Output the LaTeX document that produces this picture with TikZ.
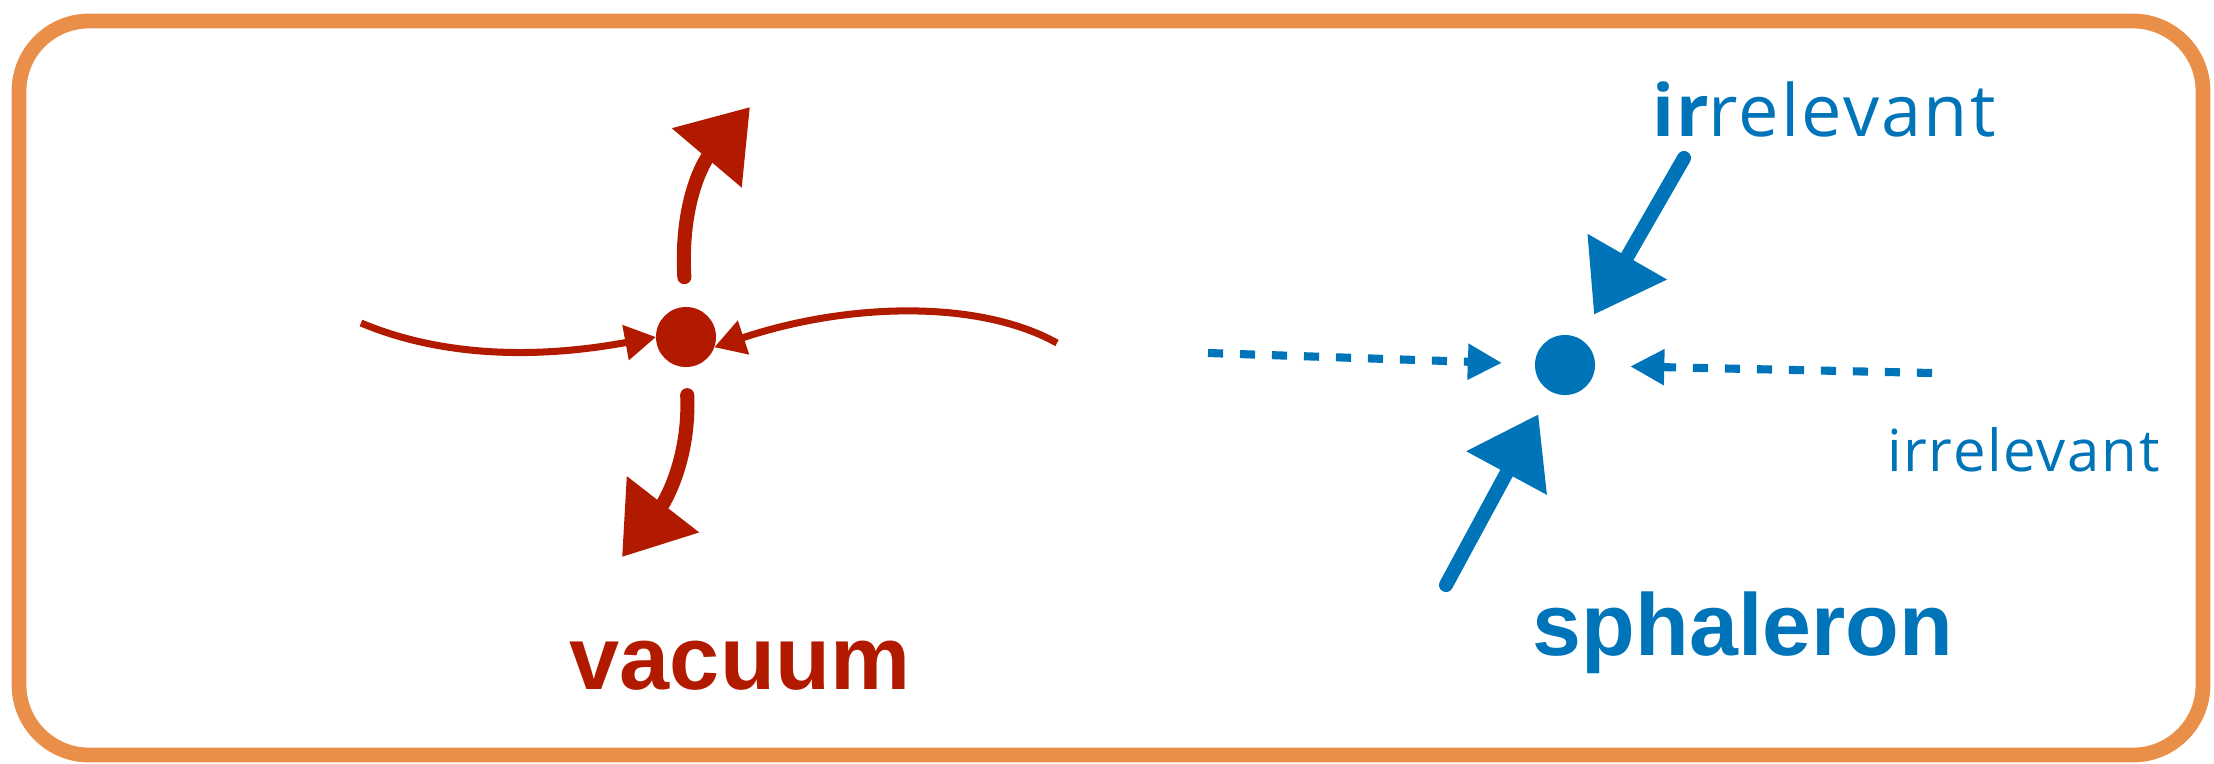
\documentclass[tikz,border=0pt]{standalone}
\usepackage{fontspec}
\setmainfont{Liberation Sans}
\newfontfamily\thinsans[LetterSpace=3]{Open Sans}
\usetikzlibrary{arrows.meta}
\definecolor{vred}{HTML}{B21A00}
\definecolor{sblue}{HTML}{0074B9}
\definecolor{frameorange}{HTML}{EA8F4A}
\begin{document}
\begin{tikzpicture}[x=0.01cm,y=-0.01cm,
  dotnode/.style={circle, minimum size=0.6cm, inner sep=0pt, outer sep=0pt},
  smootharrow/.style={line width=2pt, -{Triangle[length=8.8pt,width=9.7pt]}},
  pencilarrow/.style={line width=4pt, line cap=round, -{Triangle[length=19pt,width=25pt]}},
  dasharrow/.style={line width=2.3pt, dash pattern=on 4.3pt off 4.8pt, -{Triangle[length=9.7pt,width=9.7pt]}},
  framebox/.style={draw=frameorange, line width=4.2pt, rounded corners=0.7cm},
  lbl/.style={inner sep=0pt, outer sep=0pt, anchor=base}
]
\useasboundingbox (0,0) rectangle (2214,763);
\fill[white] (0,0) rectangle (2214,763);
\path[framebox] (19,21) rectangle (2203,755);

% vacuum side
\node[dotnode, fill=vred] (vac) at (686,337) {};
\coordinate (vacL) at (361,323);
\coordinate (vacR) at (1057,343);
\coordinate (vacT) at (750,107);
\coordinate (vacB) at (622,557);
\draw[smootharrow, vred] (vacL) .. controls (430,352) and (520,362) .. (vac.west);
\draw[smootharrow, vred] (vacR) .. controls (980,300) and (850,302) .. (vac.-20);
\draw[pencilarrow, vred, shorten <=8.5pt] (vac.north) .. controls (680,200) and (705,160) .. (vacT);
\draw[pencilarrow, vred, shorten <=8pt] (vac.south) .. controls (690,460) and (664,503) .. (vacB);
\node[lbl, text=vred, font=\bfseries\fontsize{25.6pt}{30pt}\selectfont] (tvac) at (740,689) {vacuum};

% sphaleron side
\node[dotnode, fill=sblue] (sph) at (1565,365) {};
\coordinate (sphL) at (1208,353);
\coordinate (sphR) at (1932,373);
\coordinate (sphTR) at (1684,158);
\coordinate (sphBL) at (1446,585);
\draw[dasharrow, sblue, shorten >=9.4pt] (sphL) -- (sph);
\draw[dasharrow, sblue, shorten >=10pt] (sphR) -- (sph);
\draw[pencilarrow, sblue, shorten >=8pt] (sphTR) -- (sph);
\draw[pencilarrow, sblue, shorten >=7.4pt] (sphBL) -- (sph);
\node[lbl, text=sblue, font=\bfseries\fontsize{25pt}{30pt}\selectfont] (tsph) at (1743,655) {sphaleron};
\node[lbl, anchor=base west, text=sblue, font=\thinsans\fontsize{20.5pt}{25pt}\selectfont] (tirr1) at (1652,136) {{\bfseries ir}relevant};
\node[lbl, anchor=base west, text=sblue, font=\thinsans\fontsize{16.5pt}{21pt}\selectfont] (tirr2) at (1887,471) {irrelevant};
\end{tikzpicture}
\end{document}
